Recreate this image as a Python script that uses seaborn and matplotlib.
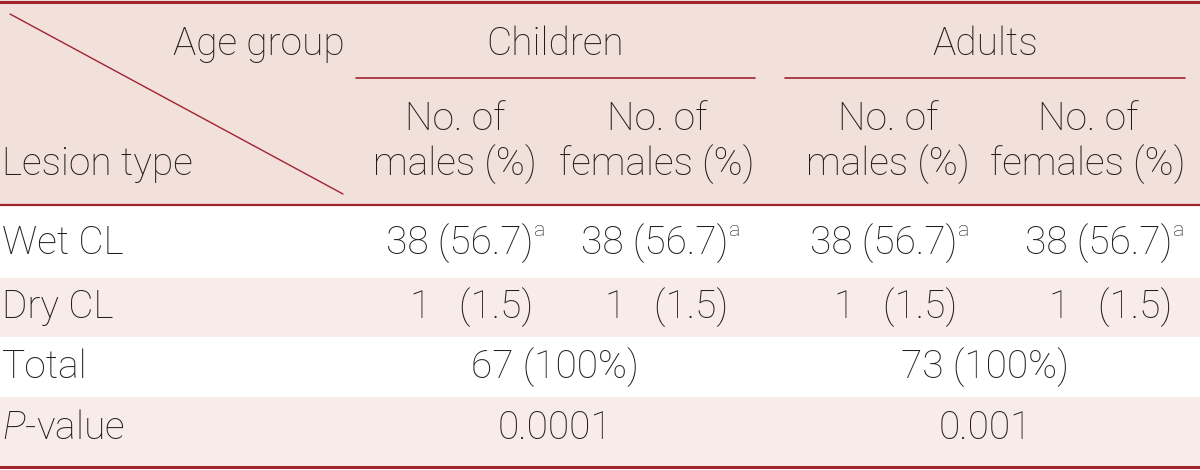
import matplotlib
matplotlib.use("Agg")

import matplotlib.pyplot as plt
import seaborn as sns


# ==========================================================
# DATA
# ==========================================================

age_groups = ["Children", "Adults"]

sub_headers = ["No. of\nmales (%)", "No. of\nfemales (%)",
               "No. of\nmales (%)", "No. of\nfemales (%)"]

row_labels = ["Wet CL", "Dry CL", "Total", "$\\it{P}$-value"]

wet_cl = ["38 (56.7)", "38 (56.7)", "38 (56.7)", "38 (56.7)"]
wet_cl_note = ["a", "a", "a", "a"]

dry_cl = ["1   (1.5)", "1   (1.5)", "1   (1.5)", "1   (1.5)"]

totals = ["67 (100%)", "73 (100%)"]

p_values = ["0.0001", "0.001"]


# ==========================================================
# STYLE
# ==========================================================

sns.set_theme(style="white")
plt.rcParams["font.family"] = ["Roboto", "DejaVu Sans"]
plt.rcParams["font.weight"] = "light"
plt.rcParams["mathtext.fontset"] = "custom"
plt.rcParams["mathtext.it"] = "Roboto:italic:light"
plt.rcParams["mathtext.rm"] = "Roboto:light"

RULE = "#a0232e"
HEAD_BG = "#f2e0da"
ALT_BG = "#f7ece8"
TXT = "#231f20"
FS = 28

fig = plt.figure(figsize=(12, 4.7), dpi=100)
ax = fig.add_axes([0, 0, 1, 1])
ax.set_xlim(0, 1200)
ax.set_ylim(470, 0)
ax.axis("off")

# backgrounds
ax.axhspan(0, 205, color=HEAD_BG, lw=0)
ax.axhspan(278, 337, color=ALT_BG, lw=0)
ax.axhspan(397, 466, color=ALT_BG, lw=0)

# rules
ax.axhline(1.5, color=RULE, lw=2.2)
ax.axhline(205, color=RULE, lw=1.6)
ax.axhline(467, color=RULE, lw=2.2)
ax.plot([356, 755], [78, 78], color=RULE, lw=1.2)
ax.plot([785, 1185], [78, 78], color=RULE, lw=1.2)
ax.plot([10, 343], [14, 194], color=RULE, lw=1.0)

# header
ax.text(345, 44, "Age group", ha="right", va="center",
        fontsize=FS, color=TXT)
ax.text(2, 164, "Lesion type", ha="left", va="center",
        fontsize=FS, color=TXT)

group_x = [555, 985]
for x, name in zip(group_x, age_groups):
    ax.text(x, 44, name, ha="center", va="center",
            fontsize=FS, color=TXT)

sub_x = [455, 657, 888, 1088]
for x, name in zip(sub_x, sub_headers):
    ax.text(x, 142, name, ha="center", va="center",
            fontsize=FS, color=TXT, linespacing=1.2)

# body
row_y = [243, 307, 367, 428]

for y, label in zip(row_y, row_labels):
    ax.text(2, y, label, ha="left", va="center",
            fontsize=FS, color=TXT)

value_right = [533, 728, 957, 1172]

for x, val, note in zip(value_right, wet_cl, wet_cl_note):
    ax.text(x, row_y[0], val, ha="right", va="center",
            fontsize=FS, color=TXT)
    ax.text(x + 1, row_y[0] - 12, note, ha="left", va="center",
            fontsize=FS * 0.55, color=TXT)

for x, val in zip(value_right, dry_cl):
    ax.text(x, row_y[1], val, ha="right", va="center",
            fontsize=FS, color=TXT)

for x, val in zip(group_x, totals):
    ax.text(x, row_y[2], val, ha="center", va="center",
            fontsize=FS, color=TXT)

for x, val in zip(group_x, p_values):
    ax.text(x, row_y[3], val, ha="center", va="center",
            fontsize=FS, color=TXT)

fig.savefig("out.png", dpi=100, facecolor="white")
plt.close(fig)
